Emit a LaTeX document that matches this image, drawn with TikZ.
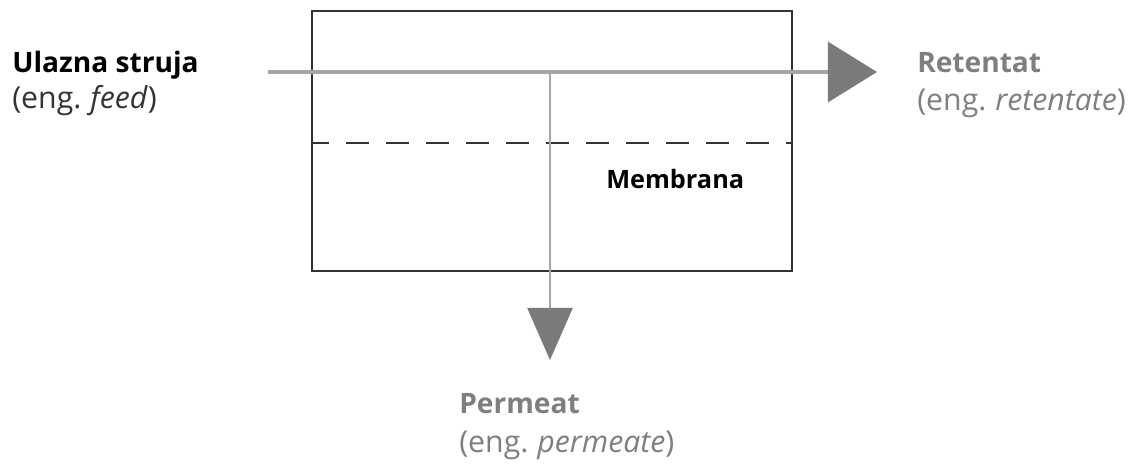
\documentclass[tikz,border=0pt]{standalone}
\usepackage{fontspec}
\setmainfont{Open Sans}
\usetikzlibrary{arrows.meta}
\definecolor{boxgray}{HTML}{333333}
\definecolor{linegray}{HTML}{A6A6A6}
\definecolor{tipgray}{HTML}{7A7A7A}
\definecolor{textgray}{HTML}{7F7F7F}
\newcommand{\engsp}{\hspace{0.3em}}
\tikzset{
	lbl/.style={anchor=base west, inner sep=0pt, font=\fontsize{20}{24}\selectfont},
	englbl/.style={lbl, font=\fontsize{21.5}{25}\selectfont},
	stream/.style={draw=linegray, line width=2.2pt},
	bigtip/.style={-{Triangle[length=1.225cm, width=1.5cm, color=tipgray]}},
	downtip/.style={-{Triangle[length=1.3cm, width=1.125cm, color=tipgray]}}
}
\begin{document}
\begin{tikzpicture}[x=0.025cm, y=-0.025cm]
	\useasboundingbox (0,0) rectangle (1140,463);
	\draw[boxgray, line width=1.6pt] (312,11) rectangle (792,271);
	\draw[boxgray, line width=1.2pt, dash pattern=on 0.575cm off 0.425cm, dash phase=0.15cm] (312,143) -- (792,143);
	\node[lbl, font=\fontsize{18}{22}\selectfont\bfseries] at (606,188) (membrane) {Membrana};
	\node[lbl] at (12,72) (feed) {\textbf{Ulazna struja}};
	\node[englbl, text=boxgray] at (12,108) (feedeng) {(eng.\engsp\textit{feed})};
	\node[lbl, text=textgray] at (917,72) (ret) {\textbf{Retentat}};
	\node[englbl, text=textgray] at (917,110) (reteng) {(eng.\engsp\textit{retentate})};
	\node[lbl, text=textgray] at (459,413) (perm) {\textbf{Permeat}};
	\node[englbl, text=textgray] at (459,452) (permeng) {(eng.\engsp\textit{permeate})};
	\coordinate (in) at (268,72);
	\coordinate (out) at (877,72);
	\coordinate (split) at (550,72);
	\coordinate (down) at (550,360);
	\draw[stream, line width=1.6pt, downtip] (split) -- (down);
	\draw[stream, bigtip] (in) -- (out);
\end{tikzpicture}
\end{document}
